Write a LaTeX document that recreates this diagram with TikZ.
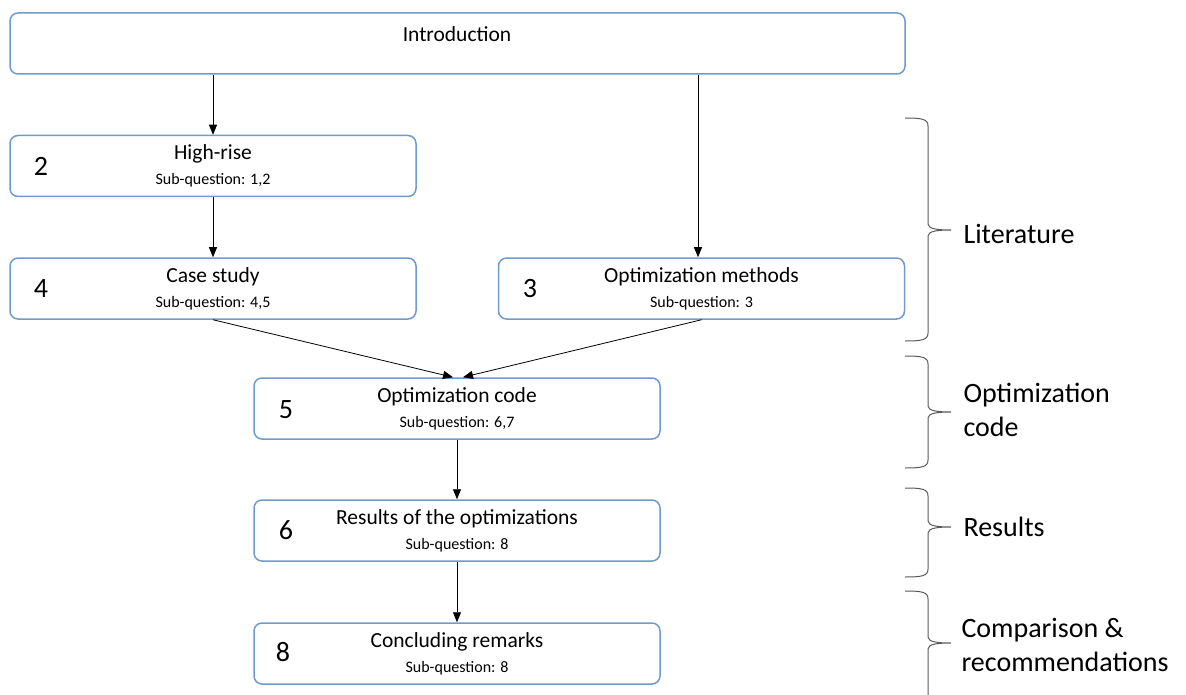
\documentclass[tikz,border=0pt]{standalone}
\usepackage{fontspec}
\setmainfont{Carlito}
\usetikzlibrary{arrows.meta}
\definecolor{boxblue}{HTML}{6F9BCD}
\definecolor{bracegray}{HTML}{595959}
\newcommand\ttl[1]{{\fontsize{21.5}{25}\selectfont #1}}

\begin{document}
\begin{tikzpicture}[x=1pt,y=-1pt,
  box/.style={draw=boxblue, line width=1.5pt, rounded corners=8pt, fill=white,
    minimum width=406pt, minimum height=61pt, align=center, inner sep=0pt,
    font=\fontsize{16}{25}\selectfont},
  num/.style={font=\fontsize{28}{30}\selectfont},
  arr/.style={-{Triangle[length=10pt,width=8pt]}, line width=0.8pt},
  brc/.style={draw=bracegray, line width=1pt},
  side/.style={anchor=west, align=left, font=\fontsize{28}{34}\selectfont}]
\clip (0,0) rectangle (1186,695);
\node[box, minimum width=895pt] (intro) at (457.5,43.5) {};
\node (introtxt) at (457,34) {\ttl{Introduction}};
\node[box] (hr) at (213,166) {\ttl{High-rise}\\Sub-question: 1,2};
\node[box] (cs) at (213,288.5) {\ttl{Case study}\\Sub-question: 4,5};
\node[box] (om) at (701.5,288.5) {\ttl{Optimization methods}\\Sub-question: 3};
\node[box] (oc) at (457,408.5) {\ttl{Optimization code}\\Sub-question: 6,7};
\node[box] (res) at (457,530.5) {\ttl{Results of the optimizations}\\Sub-question: 8};
\node[box] (cr) at (457,653.5) {\ttl{Concluding remarks}\\Sub-question: 8};
% chapter numbers
\node[num] (n2) at (41,166) {2};
\node[num] (n4) at (41,289) {4};
\node[num] (n3) at (530,289) {3};
\node[num] (n5) at (286,410) {5};
\node[num] (n6) at (286,530) {6};
\node[num] (n8) at (283,652) {8};
% arrows
\draw[arr] (intro.south -| hr.north) -- (hr.north);
\draw[arr] ([xshift=-3.5pt]intro.south -| om.north) -- ([xshift=-3.5pt]om.north);
\draw[arr] (hr) -- (cs);
\draw[arr] (cs.south) -- ([xshift=-4pt]oc.north);
\draw[arr] (om.south) -- ([xshift=6pt]oc.north);
\draw[arr] (oc) -- (res);
\draw[arr] (res) -- (cr);
% braces
\foreach \t/\m/\b in {118/230/341, 356/412/468, 488/527/577, 591/643/760}
  \draw[brc] (905,\t) .. controls (922,\t) and (928,\t+1) .. (928,\t+8) -- (928,\m-6)
    .. controls (928,\m-1) and (938,\m) .. (951,\m)
    .. controls (938,\m) and (928,\m+1) .. (928,\m+6) -- (928,\b-8)
    .. controls (928,\b-1) and (922,\b) .. (905,\b);
\node[side] (lit) at (960,234) {Literature};
\node[side] (optc) at (960,410) {Optimization\\code};
\node[side] (resl) at (960,527) {Results};
\node[side] (comp) at (958,645) {Comparison \&\\recommendations};
\end{tikzpicture}
\end{document}
